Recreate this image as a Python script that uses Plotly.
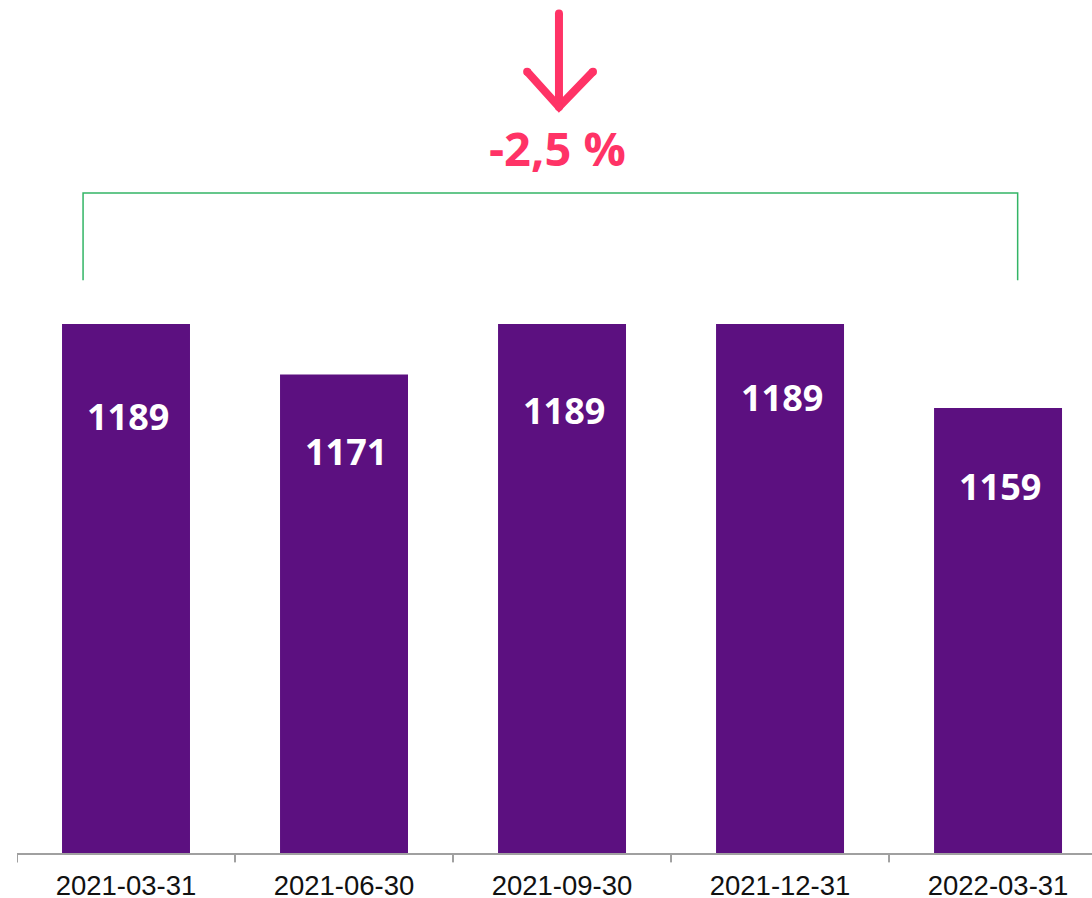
import plotly.graph_objects as go

categories = ["2021-03-31", "2021-06-30", "2021-09-30", "2021-12-31", "2022-03-31"]
values = [1189, 1171, 1189, 1189, 1159]
change_label = "-2,5 %"

# label offsets below bar tops (pixels), as in the original layout
label_shift = [92, 77, 86, 73, 78]

BAR = "#5c1080"
PINK = "#ff3366"
GREEN = "#33b566"

xs = list(range(len(categories)))

fig = go.Figure()
fig.add_trace(go.Bar(
    x=xs, y=values, width=0.587,
    marker=dict(color=BAR, line=dict(width=0)),
    hoverinfo="skip",
))

for i, v in enumerate(values):
    fig.add_annotation(
        x=i, y=v, text=str(v), showarrow=False,
        yanchor="middle", xanchor="center", yshift=-label_shift[i], xshift=2,
        font=dict(family="Open Sans", size=36, color="white", weight="bold"),
    )

# bracket
fig.add_shape(type="path",
              path="M -0.197 1204.7 L -0.197 1235.8 L 4.09 1235.8 L 4.09 1204.7",
              line=dict(color=GREEN, width=1.5), xref="x", yref="y")

# arrow (drawn as lines with round end markers)
arrow_x = [1.986, 1.986, None, 1.840, 1.986, 2.142]
arrow_y = [1300.0, 1266.8, None, 1279.2, 1266.6, 1279.2]
fig.add_trace(go.Scatter(
    x=arrow_x, y=arrow_y, mode="lines+markers",
    line=dict(color=PINK, width=8),
    marker=dict(color=PINK, size=8, line=dict(width=0)),
    hoverinfo="skip", connectgaps=False,
))

fig.add_annotation(
    x=1.98, y=1252.0, text=change_label, showarrow=False,
    xanchor="center", yanchor="middle",
    font=dict(family="Open Sans", size=47, color=PINK, weight="bold"),
)

fig.update_layout(
    width=1092, height=898,
    margin=dict(l=17, r=0, t=0, b=45),
    plot_bgcolor="white", paper_bgcolor="white",
    showlegend=False,
    xaxis=dict(
        range=[-0.5, 4.431],
        tickvals=xs, ticktext=categories,
        showgrid=False, zeroline=False, automargin=False,
        showline=True, linecolor="#a0a0a0", linewidth=2,
        ticks="", ticklabelstandoff=7,
        tickfont=dict(family="Liberation Sans, Arial", size=27.5, color="#111111"),
    ),
    yaxis=dict(range=[1000, 1304.8], visible=False, showgrid=False, zeroline=False,
               automargin=False),
)

# boundary tick marks
for b in [-0.5, 0.5, 1.5, 2.5, 3.5]:
    fig.add_shape(type="line", x0=b, x1=b, y0=0, y1=-0.011, xref="x", yref="paper",
                  line=dict(color="#a0a0a0", width=2))

fig.write_html("out.html", config={"displayModeBar": False},
               post_script="document.body.style.margin='0';document.body.style.overflow='hidden';")
